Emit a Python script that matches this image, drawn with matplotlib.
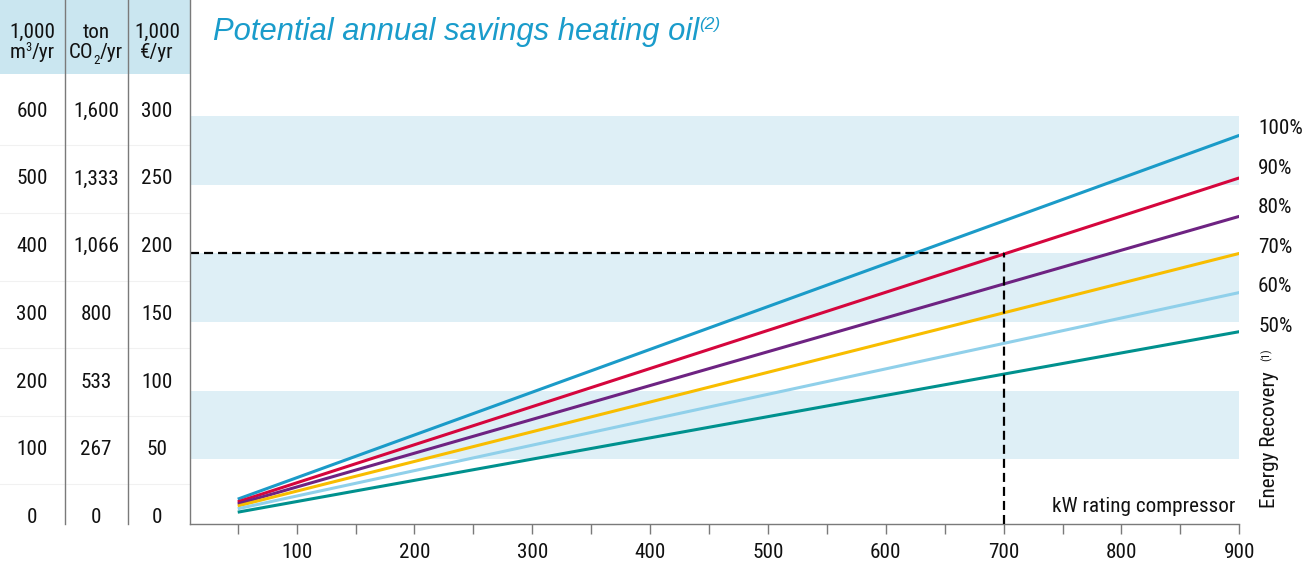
import matplotlib
matplotlib.use('Agg')
import os
import matplotlib.pyplot as plt
from matplotlib import font_manager
from matplotlib.font_manager import FontProperties
from matplotlib.lines import Line2D
from matplotlib.patches import Rectangle

# ---------------- data ----------------
kw_points = [50, 900]                       # compressor rating range (kW)
recovery_labels = ['100%', '90%', '80%', '70%', '60%', '50%']
savings_at_50kw = [21, 19, 17.5, 16, 14, 11.5]      # 1,000 EUR/yr
savings_at_900kw = [286, 255, 227, 200, 171.5, 143]  # 1,000 EUR/yr
line_colors = ['#1b9bc8', '#d5063d', '#6e2382', '#f8bd00', '#90d0ea', '#00918e']

m3_labels = ['0', '100', '200', '300', '400', '500', '600']
co2_labels = ['0', '267', '533', '800', '1,066', '1,333', '1,600']
eur_labels = ['0', '50', '100', '150', '200', '250', '300']
x_ticks = list(range(50, 901, 50))
x_labeled = list(range(100, 901, 100))
bands = [(50, 100), (150, 200), (250, 300)]
example_kw = 700
example_eur = 200

# ---------------- fonts ----------------
files = {os.path.basename(f.fname).lower(): f.fname for f in font_manager.fontManager.ttflist}
narrow_path = None
for cand in ['liberationsansnarrow-regular.ttf', 'robotocondensed-regular.ttf',
             'notosans-condensed.ttf', 'notosans-semicondensed.ttf',
             'opensans-condensed-regular.ttf', 'dejavusanscondensed.ttf']:
    if cand in files:
        narrow_path = files[cand]
        break

def NP(size):
    if narrow_path:
        return FontProperties(fname=narrow_path, size=size)
    return FontProperties(family='Liberation Sans', size=size)

plt.rcParams['lines.scale_dashes'] = False

W, H = 1313, 563
fig = plt.figure(figsize=(W / 100, H / 100), dpi=100)
renderer = fig.canvas.get_renderer()

def fx(px):
    return px / W

def fy(py):
    return 1 - py / H

TXT = '#111111'
GREY = '#7a7a7a'
FS = 15.2

def rich(x_px, y_base_px, pieces, align='center', **kw):
    """pieces: list of (text, fontproperties, rise_px)."""
    texts = [fig.text(0, 0, t, fontproperties=fp, va='baseline', ha='left', **kw)
             for t, fp, _ in pieces]
    widths = [t.get_window_extent(renderer).width for t in texts]
    total = sum(widths)
    x0 = x_px - total / 2 if align == 'center' else x_px
    for t, w, (_, _, rise) in zip(texts, widths, pieces):
        t.set_position((fx(x0), fy(y_base_px - rise)))
        x0 += w
    return texts

# ---------------- main axes ----------------
ax_left, ax_right, ax_bottom_px = 190, 1239.3, 524
ax = fig.add_axes([fx(ax_left), fy(ax_bottom_px), (ax_right - ax_left) / W, ax_bottom_px / H])
ax.set_xlim(9.5, 900)
ax.set_ylim(2.9, 384.6)
for lo, hi in bands:
    ax.axhspan(lo, hi, color='#deeff6', lw=0, zorder=0)

for lab, s0, s1, c in zip(recovery_labels, savings_at_50kw, savings_at_900kw, line_colors):
    ax.plot(kw_points, [s0, s1], color=c, lw=2.2, solid_capstyle='butt', zorder=3)

ax.plot([9.5, example_kw], [example_eur, example_eur], color='black', lw=1.6,
        dashes=(6.5, 3.6), zorder=4)
ax.plot([example_kw, example_kw], [2.9, example_eur], color='black', lw=1.6,
        dashes=(6.5, 3.6), zorder=4)

for s in ['left', 'top', 'right']:
    ax.spines[s].set_visible(False)
ax.spines['bottom'].set_color(GREY)
ax.spines['bottom'].set_linewidth(1.0)
ax.set_yticks([])
ax.set_xticks(x_ticks)
ax.set_xticklabels([str(v) if v in x_labeled else '' for v in x_ticks])
for t in ax.get_xticklabels():
    t.set_fontproperties(NP(FS))
    t.set_color(TXT)
ax.tick_params(axis='x', length=7.2, width=1.0, color=GREY, pad=6.5)

# ---------------- left value columns ----------------
fig.patches.append(Rectangle((0, fy(74)), fx(190), 74 / H, transform=fig.transFigure,
                             facecolor='#cae6f0', edgecolor='none', zorder=0))
for xs in [65, 128, 190]:
    fig.add_artist(Line2D([fx(xs), fx(xs)], [fy(0), fy(524)], color=GREY, lw=1.0))

col_x = [32, 96, 157]
for i in range(len(m3_labels)):
    ypx = 517.5 - i * 67.7
    for cx, labs in zip(col_x, [m3_labels, co2_labels, eur_labels]):
        fig.text(fx(cx), fy(ypx), labs[i], ha='center', va='center',
                 fontproperties=NP(FS), color=TXT)
    if i < len(m3_labels) - 1:
        ym = ypx - 67.7 / 2
        fig.add_artist(Line2D([0, fx(189)], [fy(ym), fy(ym)], color='#f1f1f1', lw=0.8,
                              zorder=0))

# header texts
for cx, l1 in zip(col_x, ['1,000', 'ton', '1,000']):
    fig.text(fx(cx), fy(38), l1, ha='center', va='baseline', fontproperties=NP(FS), color=TXT)
rich(col_x[0], 58.5, [('m', NP(FS), 0), ('3', NP(9), 7.5), ('/yr', NP(FS), 0)], color=TXT)
rich(col_x[1], 58.5, [('CO', NP(FS), 0), ('2', NP(9.5), -5), ('/yr', NP(FS), 0)], color=TXT)
fig.text(fx(col_x[2]), fy(58.5), '€/yr', ha='center', va='baseline', fontproperties=NP(FS),
         color=TXT)

# ---------------- title and annotations ----------------
title_fp = FontProperties(family='Liberation Sans', style='italic', size=22.3)
sup_fp = FontProperties(family='Liberation Sans', style='italic', size=12.5)
rich(213, 40, [('Potential annual savings heating oil', title_fp, 0), ('(2)', sup_fp, 10.5)],
     align='left', color='#1a9ccb')

for i, lab in enumerate(recovery_labels):
    fig.text(fx(1258), fy(129 + i * 39.4), lab, ha='left', va='center',
             fontproperties=NP(FS), color=TXT)

fig.text(fx(1275), fy(508), 'Energy Recovery', rotation=90, rotation_mode='anchor',
         ha='left', va='baseline', fontproperties=NP(FS), color=TXT)
fig.text(fx(1270), fy(361), '(1)', rotation=90, rotation_mode='anchor',
         ha='left', va='baseline', fontproperties=NP(8), color=TXT)
fig.text(fx(1235), fy(512), 'kW rating compressor', ha='right', va='baseline',
         fontproperties=NP(FS), color=TXT)

fig.savefig('out.png', dpi=100)
